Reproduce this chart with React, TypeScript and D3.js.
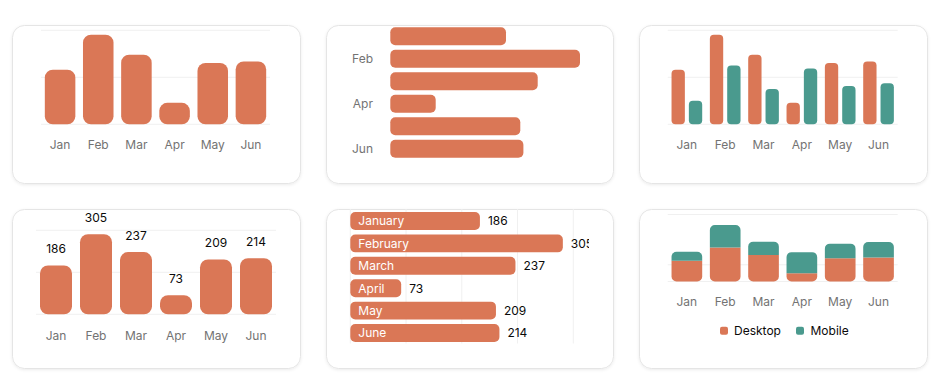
import React from "react";
import * as d3 from "d3";

const months = ["Jan", "Feb", "Mar", "Apr", "May", "Jun"];
const monthsFull = ["January", "February", "March", "April", "May", "June"];
const desktop = [186, 305, 237, 73, 209, 214];
const mobile = [80, 200, 120, 190, 130, 140];
const barGridTicks = [0, 160, 320];
const hGridTicks = [0, 80, 160, 240, 320];
const stackGridTicks = [0, 150, 600];
const sparseTicks = ["Feb", "Apr", "Jun"];
const legendItems = ["Desktop", "Mobile"];

const ORANGE = "#DA7756";
const TEAL = "#4A9A8E";
const GRID = "#f0f0f0";
const MUTED = "#737373";
const INK = "#0a0a0a";
const FONT = "Inter, 'Noto Sans', sans-serif";

function rpath(x: number, y: number, w: number, h: number, tl: number, tr: number, br: number, bl: number) {
  const p = d3.path();
  p.moveTo(x + tl, y);
  p.lineTo(x + w - tr, y);
  if (tr) p.arcTo(x + w, y, x + w, y + tr, tr);
  p.lineTo(x + w, y + h - br);
  if (br) p.arcTo(x + w, y + h, x + w - br, y + h, br);
  p.lineTo(x + bl, y + h);
  if (bl) p.arcTo(x, y + h, x, y + h - bl, bl);
  p.lineTo(x, y + tl);
  if (tl) p.arcTo(x, y, x + tl, y, tl);
  p.closePath();
  return p.toString();
}

const cards = [
  { x: 12, y: 25, w: 288, h: 158 },
  { x: 326, y: 25, w: 287, h: 158 },
  { x: 639, y: 25, w: 288, h: 158 },
  { x: 12, y: 209, w: 288, h: 159 },
  { x: 326, y: 209, w: 287, h: 159 },
  { x: 639, y: 209, w: 288, h: 159 },
];

function Chart1() {
  const x = d3.scaleBand<string>().domain(months).range([41, 270]);
  const y = d3.scaleLinear().domain([0, 320]).range([124.3, 30.3]);
  const inset = x.step() * 0.1;
  const bw = x.bandwidth() - 2 * inset;
  return (
    <g>
      {barGridTicks.map((t) => (
        <line key={t} x1={41} x2={270} y1={y(t)} y2={y(t)} stroke={GRID} />
      ))}
      {months.map((m, i) => (
        <rect key={m} x={x(m)! + inset} y={y(desktop[i])} width={bw} height={y(0) - y(desktop[i])} rx={8} fill={ORANGE} />
      ))}
      {months.map((m) => (
        <text key={m} x={x(m)! + x.bandwidth() / 2} y={149} textAnchor="middle" fontSize={12} fill={MUTED}>{m}</text>
      ))}
    </g>
  );
}

function Chart2() {
  const y = d3.scaleBand<string>().domain(months).range([25, 160]);
  const x = d3.scaleLinear().domain([0, 305]).range([390.3, 580]);
  const inset = y.step() * 0.1;
  const bh = y.bandwidth() - 2 * inset;
  return (
    <g>
      {months.map((m, i) => (
        <rect key={m} x={x(0)} y={y(m)! + inset} width={x(desktop[i]) - x(0)} height={bh} rx={5} fill={ORANGE} />
      ))}
      {sparseTicks.map((m) => (
        <text key={m} x={373} y={y(m)! + y.bandwidth() / 2 + 4.3} textAnchor="end" fontSize={12} fill={MUTED}>{m}</text>
      ))}
    </g>
  );
}

function Chart3() {
  const x = d3.scaleBand<string>().domain(months).range([667.7, 897.7]);
  const y = d3.scaleLinear().domain([0, 320]).range([124.3, 30.3]);
  const inset = x.step() * 0.1;
  const gap = 4;
  const bw = (x.bandwidth() - 2 * inset - gap) / 2;
  return (
    <g>
      {barGridTicks.map((t) => (
        <line key={t} x1={667.7} x2={897.7} y1={y(t)} y2={y(t)} stroke={GRID} />
      ))}
      {months.map((m, i) => (
        <g key={m}>
          <rect x={x(m)! + inset} y={y(desktop[i])} width={bw} height={y(0) - y(desktop[i])} rx={4} fill={ORANGE} />
          <rect x={x(m)! + inset + bw + gap} y={y(mobile[i])} width={bw} height={y(0) - y(mobile[i])} rx={4} fill={TEAL} />
        </g>
      ))}
      {months.map((m) => (
        <text key={m} x={x(m)! + x.bandwidth() / 2} y={149} textAnchor="middle" fontSize={12} fill={MUTED}>{m}</text>
      ))}
    </g>
  );
}

function Chart4() {
  const x = d3.scaleBand<string>().domain(months).range([36, 276]);
  const y = d3.scaleLinear().domain([0, 320]).range([314.3, 230.3]);
  const inset = x.step() * 0.1;
  const bw = x.bandwidth() - 2 * inset;
  return (
    <g>
      {barGridTicks.map((t) => (
        <line key={t} x1={36} x2={276} y1={y(t)} y2={y(t)} stroke={GRID} />
      ))}
      {months.map((m, i) => (
        <rect key={m} x={x(m)! + inset} y={y(desktop[i])} width={bw} height={y(0) - y(desktop[i])} rx={8} fill={ORANGE} />
      ))}
      {months.map((m, i) => (
        <text key={"v" + m} x={x(m)! + x.bandwidth() / 2} y={y(desktop[i]) - 12} textAnchor="middle" fontSize={12} fill={INK}>{desktop[i]}</text>
      ))}
      {months.map((m) => (
        <text key={m} x={x(m)! + x.bandwidth() / 2} y={339.5} textAnchor="middle" fontSize={12} fill={MUTED}>{m}</text>
      ))}
    </g>
  );
}

function Chart5() {
  const y = d3.scaleBand<string>().domain(monthsFull).range([209.8, 344.2]);
  const x = d3.scaleLinear().domain([0, 320]).range([350.3, 573.3]);
  const inset = y.step() * 0.1;
  const bh = y.bandwidth() - 2 * inset;
  return (
    <g clipPath="url(#clip5)">
      {hGridTicks.map((t) => (
        <line key={t} x1={x(t)} x2={x(t)} y1={209} y2={343.5} stroke={GRID} />
      ))}
      {monthsFull.map((m, i) => (
        <g key={m}>
          <rect x={x(0)} y={y(m)! + inset} width={x(desktop[i]) - x(0)} height={bh} rx={5} fill={ORANGE} />
          <text x={x(0) + 8} y={y(m)! + y.bandwidth() / 2 + 4.3} fontSize={12} fill="#ffffff">{m}</text>
          <text x={x(desktop[i]) + 8} y={y(m)! + y.bandwidth() / 2 + 4.3} fontSize={12} fill={INK}>{desktop[i]}</text>
        </g>
      ))}
    </g>
  );
}

function Chart6() {
  const x = d3.scaleBand<string>().domain(months).range([667.7, 897.7]);
  const y = d3.scaleLinear().domain([0, 600]).range([281.5, 214.5]);
  const inset = x.step() * 0.1;
  const bw = x.bandwidth() - 2 * inset;
  const series = d3.stack<number>().keys(["d", "m"]).value((i, k) => (k === "d" ? desktop[i] : mobile[i]))(d3.range(months.length));
  const r = 5;
  const cx = 783;
  return (
    <g>
      {stackGridTicks.map((t) => (
        <line key={t} x1={667.7} x2={897.7} y1={y(t)} y2={y(t)} stroke={GRID} />
      ))}
      {months.map((m, i) => {
        const [d0, d1] = series[0][i];
        const [m0, m1] = series[1][i];
        const bx = x(m)! + inset;
        return (
          <g key={m}>
            <path d={rpath(bx, y(d1), bw, y(d0) - y(d1), 0, 0, r, r)} fill={ORANGE} />
            <path d={rpath(bx, y(m1), bw, y(m0) - y(m1), r, r, 0, 0)} fill={TEAL} />
          </g>
        );
      })}
      {months.map((m) => (
        <text key={m} x={x(m)! + x.bandwidth() / 2} y={306} textAnchor="middle" fontSize={12} fill={MUTED}>{m}</text>
      ))}
      <g>
        <rect x={cx - 63} y={326.7} width={8} height={8} rx={2} fill={ORANGE} />
        <text x={cx - 49} y={335} fontSize={12} fill={INK}>{legendItems[0]}</text>
        <rect x={cx + 13} y={326.7} width={8} height={8} rx={2} fill={TEAL} />
        <text x={cx + 27.5} y={335} fontSize={12} fill={INK}>{legendItems[1]}</text>
      </g>
    </g>
  );
}

export default function App() {
  return (
    <svg
      width={940}
      height={388}
      style={{ position: "absolute", left: 0, top: 0, background: "#ffffff" }}
      fontFamily={FONT}
    >
      <defs>
        <filter id="shadow" x="-10%" y="-10%" width="120%" height="130%">
          <feDropShadow dx="0" dy="1" stdDeviation="1.5" floodColor="#000" floodOpacity="0.08" />
        </filter>
        <clipPath id="clip5">
          <rect x={326} y={200} width={263} height={170} />
        </clipPath>
      </defs>
      {cards.map((c, i) => (
        <rect key={i} x={c.x + 0.5} y={c.y + 0.5} width={c.w} height={c.h} rx={12} fill="#fff" stroke="#e5e5e5" filter="url(#shadow)" />
      ))}
      <Chart1 />
      <Chart2 />
      <Chart3 />
      <Chart4 />
      <Chart5 />
      <Chart6 />
    </svg>
  );
}
